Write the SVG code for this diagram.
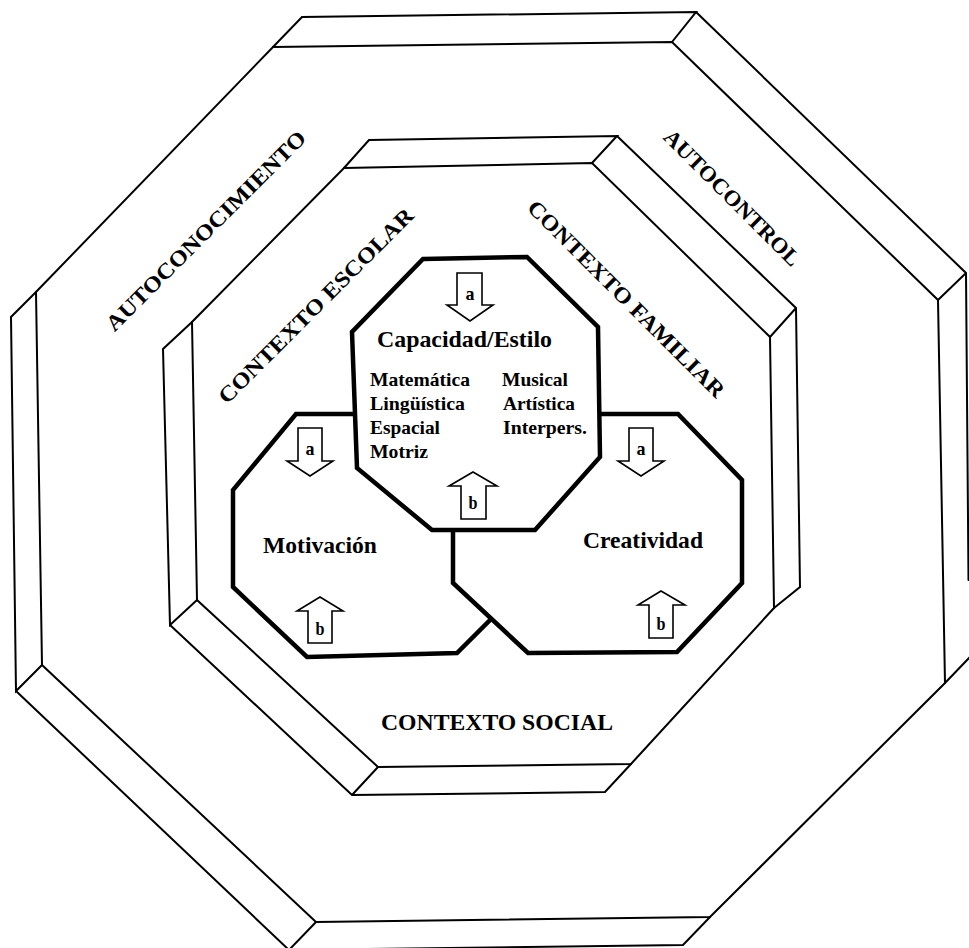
<svg xmlns="http://www.w3.org/2000/svg" width="969" height="948" viewBox="0 0 969 948">
<style>
.fr{fill:none;stroke:#000;stroke-width:2;stroke-linejoin:miter;stroke-linecap:round}
.oc{fill:#fff;stroke:#000;stroke-width:4.5;stroke-linejoin:miter}
.ar{fill:#fff;stroke:#000;stroke-width:1.6;stroke-linejoin:miter}
.t{font-family:"Liberation Serif","Times New Roman",serif;font-weight:bold;fill:#000}
.l{font-family:"Liberation Serif","Times New Roman",serif;font-size:19px;font-weight:bold;fill:#000;text-anchor:middle}
</style>
<rect width="969" height="948" fill="#fff"/>
<g id="outer-frame" class="fr">
<path d="M273 47 L672 42 L938 300 L945 683 L710 917 L316 922 L42 665 L36 292 Z"/>
<path d="M273 47 L302 17 L696 12 L672 42 M696 12 L966 273 L968.5 580 M938 300 L966 273 M945 683 L970 657"/>
<path d="M36 292 L11 317 L16 691 L42 665 M16 691 L289 950 L683 945 L710 917 M316 922 L289 950"/>
</g>
<g id="inner-frame" class="fr">
<path d="M344 168 L592 163 L770 337 L774 608 L631 764 L378 767 L197 600 L192 322 Z"/>
<path d="M344 168 L369 140 L617 136 L592 163 M617 136 L796 308 L800 587 L774 608 M770 337 L796 308"/>
<path d="M192 322 L163 349 L170 625 L197 600 M170 625 L352 795 L605 792 L631 764 M378 767 L352 795"/>
</g>
<g id="labels-frames" class="t">
<text transform="translate(211 236) rotate(-45)" font-size="22" text-anchor="middle" textLength="273" lengthAdjust="spacingAndGlyphs">AUTOCONOCIMIENTO</text>
<text transform="translate(727 203) rotate(45)" font-size="22" text-anchor="middle" textLength="183" lengthAdjust="spacingAndGlyphs">AUTOCONTROL</text>
<text transform="translate(321 311) rotate(-45)" font-size="22" text-anchor="middle" textLength="266" lengthAdjust="spacingAndGlyphs">CONTEXTO ESCOLAR</text>
<text transform="translate(621 304) rotate(45)" font-size="22" text-anchor="middle" textLength="269" lengthAdjust="spacingAndGlyphs">CONTEXTO FAMILIAR</text>
<text x="381" y="730" font-size="23" textLength="232" lengthAdjust="spacingAndGlyphs">CONTEXTO SOCIAL</text>
</g>
<g id="motivacion">
<path class="oc" d="M296 414 L420 414 L505 500 L505 605 L457 653 L307 657 L233 587 L233 490 Z"/>
<text class="t" x="263" y="553" font-size="23" textLength="114" lengthAdjust="spacingAndGlyphs">Motivación</text>
<path class="ar" d="M298 428 H322 V461 H333 L310 476 L287 461 H298 Z"/>
<text class="l" x="310" y="455" textLength="9" lengthAdjust="spacingAndGlyphs">a</text>
<path class="ar" d="M320 597 L343 611 H332 V643 H308 V611 H297 Z"/>
<text class="l" x="320" y="635" textLength="9" lengthAdjust="spacingAndGlyphs">b</text>
</g>
<g id="creatividad">
<path class="oc" d="M520 414 L678 414 L742 480 L742 583 L677 652 L528 653 L453 583 L453 480 Z"/>
<text class="t" x="583" y="548" font-size="23" textLength="120" lengthAdjust="spacingAndGlyphs">Creatividad</text>
<path class="ar" d="M629 428 H653 V461 H664 L641 476 L618 461 H629 Z"/>
<text class="l" x="641" y="455" textLength="9" lengthAdjust="spacingAndGlyphs">a</text>
<path class="ar" d="M661 591 L685 605 H673 V638 H649 V605 H638 Z"/>
<text class="l" x="661" y="630" textLength="9" lengthAdjust="spacingAndGlyphs">b</text>
</g>
<g id="capacidad">
<path class="oc" d="M423 259 L527 257 L598 327 L600 457 L535 530 L432 530 L357 468 L352 332 Z"/>
<text class="t" x="377" y="347" font-size="23" textLength="175" lengthAdjust="spacingAndGlyphs">Capacidad/Estilo</text>
<g class="t" font-size="19">
<text x="370" y="386" textLength="100" lengthAdjust="spacingAndGlyphs">Matemática</text>
<text x="370" y="410" textLength="95" lengthAdjust="spacingAndGlyphs">Lingüística</text>
<text x="370" y="434" textLength="70" lengthAdjust="spacingAndGlyphs">Espacial</text>
<text x="370" y="458" textLength="58" lengthAdjust="spacingAndGlyphs">Motriz</text>
<text x="502" y="386" textLength="66" lengthAdjust="spacingAndGlyphs">Musical</text>
<text x="503" y="410" textLength="72" lengthAdjust="spacingAndGlyphs">Artística</text>
<text x="503" y="434" textLength="84" lengthAdjust="spacingAndGlyphs">Interpers.</text>
</g>
<path class="ar" d="M457 273 H482 V305 H493 L470 321 L447 305 H457 Z"/>
<text class="l" x="470" y="300" textLength="9" lengthAdjust="spacingAndGlyphs">a</text>
<path class="ar" d="M473 472 L497 486 H486 V519 H461 V486 H449 Z"/>
<text class="l" x="473" y="509" textLength="9" lengthAdjust="spacingAndGlyphs">b</text>
</g>
</svg>
